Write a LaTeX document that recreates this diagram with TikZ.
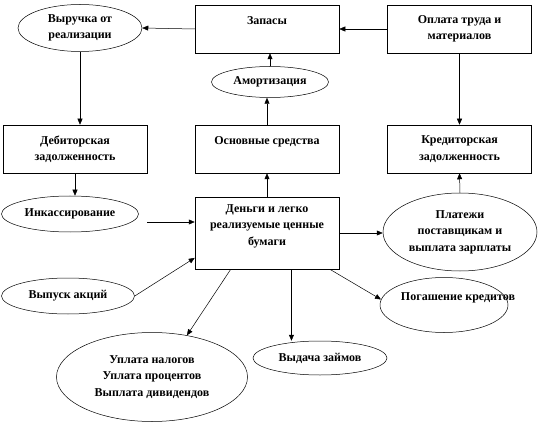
\documentclass[tikz,border=0pt]{standalone}
\usepackage{fontspec}
\setmainfont{Liberation Serif}[BoldFont={Liberation Serif Bold}]
\usetikzlibrary{arrows.meta}
\usetikzlibrary{shapes.geometric}

\begin{document}
\begin{tikzpicture}[x=1pt, y=-1pt, font=\fontsize{12}{16.5}\selectfont\bfseries,
  box/.style={draw, minimum width=144pt, minimum height=48pt, align=center, inner sep=0pt},
  oval/.style={draw, ellipse, align=center, inner sep=0pt},
  >={Triangle[length=6pt,width=5pt]}, line width=.5pt]
\useasboundingbox (0,0) rectangle (538,422);

\node[oval, minimum width=124pt, minimum height=47pt] (vyr) at (80,28) {Выручка от\\реализации};
\node[box] (zap) at (267,29) {Запасы\\ \mbox{}};
\node[box] (opl) at (459.5,29) {Оплата труда и\\материалов};
\node[oval, minimum width=117pt, minimum height=31pt] (amo) at (270,82) {Амортизация};

\node[box] (deb) at (75,149) {Дебиторская\\задолженность};
\node[box] (osn) at (267,149) {Основные средства\\ \mbox{}};
\node[box] (kre) at (459.5,149) {Кредиторская\\задолженность};

\node[oval, minimum width=137pt, minimum height=36pt] (ink) at (70,214) {Инкассирование};
\node[box, minimum height=72pt] (den) at (267,233) {Деньги и легко\\реализуемые ценные\\бумаги\\ \mbox{}};
\node[oval, minimum width=154pt, minimum height=78pt] (pla) at (460,232) {Платежи\\поставщикам и\\выплата зарплаты};

\node[oval, minimum width=133pt, minimum height=36pt] (vyp) at (68,296) {Выпуск акций};
\node[oval, minimum width=128pt, minimum height=55pt] (pog) at (444,305) {\makebox[0pt]{\hspace*{28pt}Погашение кредитов}\\ \mbox{}};
\node[oval, minimum width=134pt, minimum height=34pt] (vyd) at (320,358) {Выдача займов};
\node[oval, minimum width=191pt, minimum height=89pt] (upl) at (152,377) {Уплата налогов\\Уплата процентов\\Выплата дивидендов};

\coordinate (ink-out) at (147,222);

\draw[->] (zap.west) -- (vyr.east);
\draw[->] (opl.west) -- (zap.east);
\draw[->] (amo.north) -- (amo.north |- zap.south);
\draw[->] (osn.north) -- (osn.north |- amo.south);
\draw[->] (vyr.south) -- (vyr.south |- deb.north);
\draw[->] (opl.south) -- (kre.north);
\draw[->] (deb.south) -- (deb.south |- ink.north);
\draw[->] (den.north) -- (osn.south);
\draw[->] (pla.north) -- (kre.south);
\draw[->] (ink-out) -- (ink-out -| den.west);
\draw[->] (den.east) -- (den.east -| pla.west);
\draw[->] (vyp.east) -- (den.199);
\draw[->] (den.225) -- (upl.50);
\draw[->] (den.304) -- (den.304 |- vyd.north);
\draw[->] (den.330) -- (pog.175);
\end{tikzpicture}
\end{document}
